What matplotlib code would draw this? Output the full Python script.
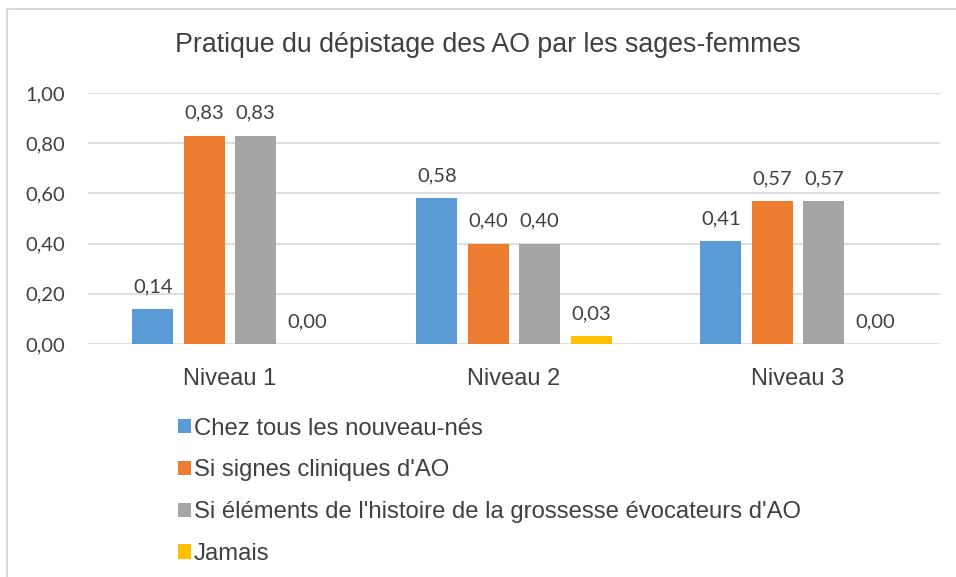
import matplotlib.pyplot as plt
import numpy as np
from matplotlib.lines import Line2D

plt.rcParams['font.family'] = ['Liberation Sans', 'DejaVu Sans']

# Data
categories = ['Niveau 1', 'Niveau 2', 'Niveau 3']
series = ['Chez tous les nouveau-nés',
          "Si signes cliniques d'AO",
          "Si éléments de l'histoire de la grossesse évocateurs d'AO",
          'Jamais']
values = [
    [0.14, 0.58, 0.41],
    [0.83, 0.40, 0.57],
    [0.83, 0.40, 0.57],
    [0.00, 0.03, 0.00],
]
colors = ['#5b9bd5', '#ed7d31', '#a5a5a5', '#ffc000']
text_col = '#404040'
num_font = ['Lato', 'DejaVu Sans']

fig = plt.figure(figsize=(9.56, 5.77), dpi=100)
W, H = 956, 577

# chart frame (only top and left edges visible)
fig.add_artist(Line2D([7 / W, 7 / W], [0, 1 - 8.5 / H], transform=fig.transFigure,
                      color='#d9d9d9', linewidth=1.5))
fig.add_artist(Line2D([7 / W, 1], [1 - 8.5 / H, 1 - 8.5 / H], transform=fig.transFigure,
                      color='#d9d9d9', linewidth=1.5))

ax = fig.add_axes([88 / W, 1 - 344 / H, 852 / W, (344 - 93) / H])

x = np.arange(len(categories))
pitch = 0.181
width = 0.145
for i, (name, vals, c) in enumerate(zip(series, values, colors)):
    pos = x + (i - 1.5) * pitch
    ax.bar(pos, vals, width=width, color=c, label=name, zorder=3)
    for p, v in zip(pos, vals):
        ax.annotate(f'{v:.2f}'.replace('.', ','), (p, v), xytext=(0, 10),
                    textcoords='offset points', ha='center', va='bottom',
                    fontsize=14.5, color=text_col, family=num_font)

ax.set_xlim(-0.5, 2.5)
ax.set_ylim(0, 1.0)
yt = np.arange(0, 1.01, 0.2)
ax.set_yticks(yt)
ax.set_yticklabels([f'{t:.2f}'.replace('.', ',') for t in yt], family=num_font)
ax.set_xticks(x)
ax.set_xticklabels(categories)
ax.tick_params(axis='both', length=0, labelcolor=text_col)
ax.tick_params(axis='y', labelsize=14.5, pad=16.5)
ax.tick_params(axis='x', labelsize=17, pad=17)
ax.grid(axis='y', color='#d9d9d9', linewidth=1.2, zorder=0)
for s in ax.spines.values():
    s.set_visible(False)

fig.text(488 / W, 1 - 45 / H, 'Pratique du dépistage des AO par les sages-femmes',
         ha='center', va='center', fontsize=19.3, color=text_col)

leg = fig.legend(loc='upper left', bbox_to_anchor=(168 / W, 1 - 408 / H),
                 frameon=False, fontsize=17.2, handlelength=0.55, handleheight=0.55,
                 handletextpad=0.12, labelspacing=0.83, borderaxespad=0)
for t in leg.get_texts():
    t.set_color(text_col)

fig.savefig('out.png', dpi=100)
